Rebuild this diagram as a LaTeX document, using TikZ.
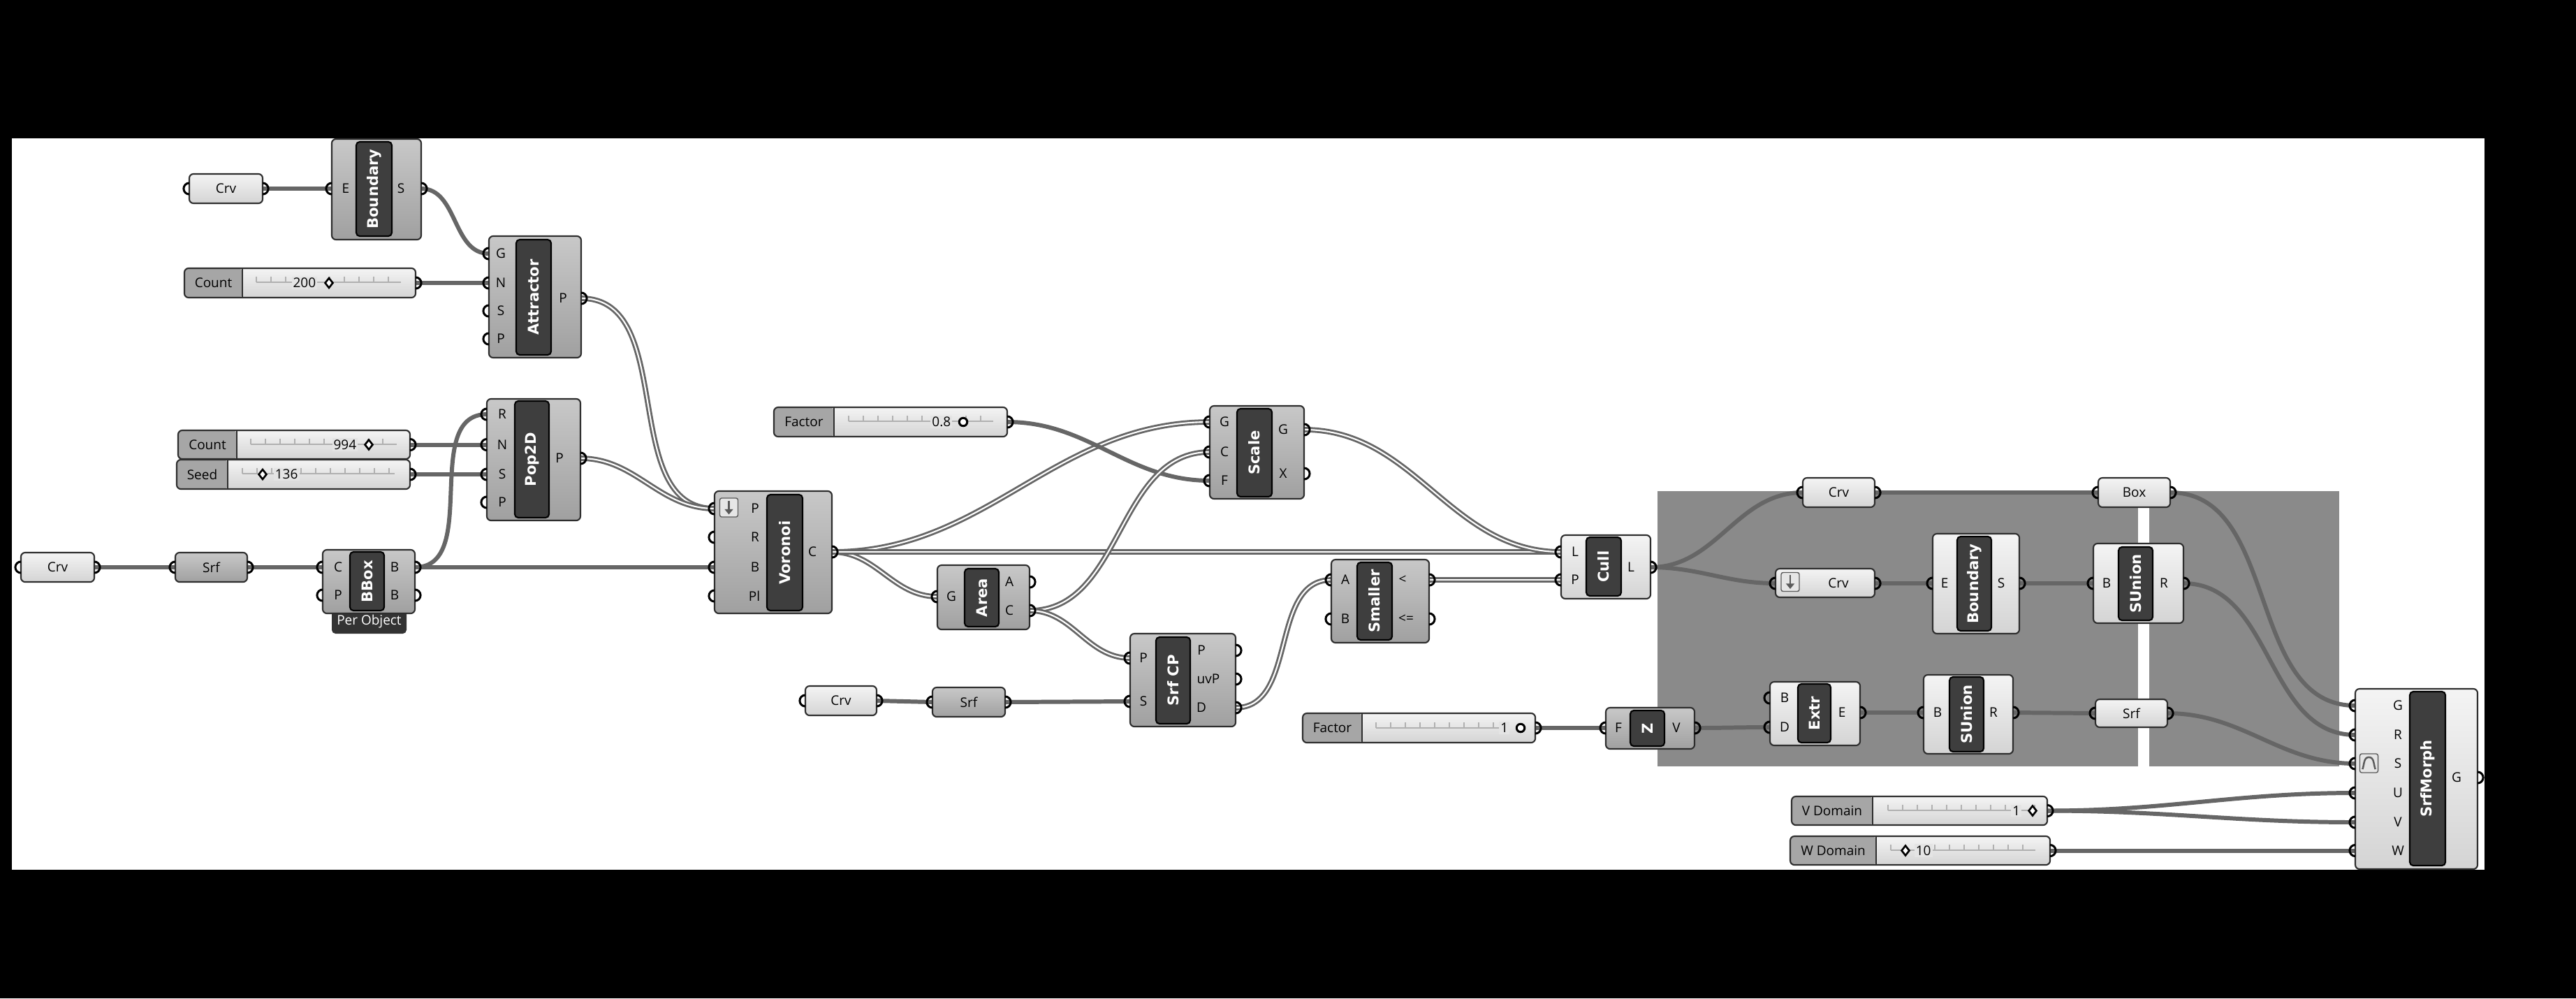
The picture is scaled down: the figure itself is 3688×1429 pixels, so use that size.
\documentclass[tikz,border=0pt]{standalone}
\usepackage{fontspec}
\setmainfont{Open Sans}
\newfontfamily\namefont{DejaVu Sans}
\usetikzlibrary{arrows.meta,shapes.geometric}

\pgfdeclarelayer{back}
\pgfdeclarelayer{wires}
\pgfsetlayers{back,wires,main}

\definecolor{edge}{HTML}{2E2E2E}
\definecolor{compTop}{HTML}{C8C8C8}
\definecolor{compBot}{HTML}{A0A0A0}
\definecolor{liteTop}{HTML}{F4F4F4}
\definecolor{liteBot}{HTML}{D4D4D4}
\definecolor{liteMid}{HTML}{E4E4E4}
\definecolor{slabel}{HTML}{A6A6A6}
\definecolor{barfill}{HTML}{3E3E3E}
\definecolor{wirecol}{HTML}{666666}
\definecolor{groupcol}{HTML}{8A8A8A}
\definecolor{railcol}{HTML}{B0B0B0}
\definecolor{iconFill}{HTML}{E6E6E6}
\definecolor{iconDark}{HTML}{5A5A5A}

\begin{document}
\begin{tikzpicture}[
    x=0.01cm, y=-0.01cm,
    wh/.style 2 args={minimum width=#1*0.01cm, minimum height=#2*0.01cm},
    comp/.style={draw=edge, line width=0.6pt, rounded corners=1.7pt, inner sep=0, top color=compTop, bottom color=compBot},
    lite/.style={comp, top color=liteTop, bottom color=liteBot},
    param/.style={lite, font=\fontsize{5.4}{6.5}\selectfont},
    gparam/.style={comp, font=\fontsize{5.4}{6.5}\selectfont},
    bar/.style={draw=black, line width=0.6pt, rounded corners=1.4pt, fill=barfill, text=white, rotate=90, inner sep=0, font=\namefont\bfseries\fontsize{6}{7}\selectfont},
    plab/.style={inner sep=0, font=\fontsize{5.4}{6.5}\selectfont},
    val/.style={plab, fill=liteMid, inner sep=0.6pt},
    slider/.style={lite, path picture={
        \fill[slabel] (path picture bounding box.north west) rectangle ([xshift=#1*0.01cm]path picture bounding box.south west);
        \draw[edge, line width=0.6pt] ([xshift=#1*0.01cm]path picture bounding box.north west) -- ([xshift=#1*0.01cm]path picture bounding box.south west);}},
    pics/rail/.style={code={
        \draw[railcol, line width=0.35pt] (0,0) -- (#1,0);
        \foreach \t in {0,21,...,#1} \draw[railcol, line width=0.35pt] (\t,0) -- (\t,-8);}},
    dia/.style={draw=black, line width=0.75pt, fill=white, diamond, inner sep=0, minimum width=0.12cm, minimum height=0.15cm},
    ring/.style={draw=black, line width=0.85pt, fill=white, circle, inner sep=0, minimum size=0.115cm},
    icon/.style={draw=iconDark, line width=0.4pt, fill=iconFill, rounded corners=0.8pt, inner sep=0, minimum width=0.26cm, minimum height=0.27cm},
    iconarrow/.style={draw=iconDark, line width=0.75pt, -{Triangle[length=2.2pt, width=3.4pt]}},
    tab/.style={fill=black!80, rounded corners=1.5pt, text=white, inner sep=0, font=\fontsize{5.4}{6.5}\selectfont},
    group/.style={fill=groupcol, inner sep=0},
    wire/.style={draw=wirecol, line width=1.7pt},
    list/.style={draw=wirecol, line width=0.8pt, double=white, double distance=0.6pt},
    grip/.style={draw=black, line width=0.85pt}
  ]
  \useasboundingbox (0,0) rectangle (3688,1429);
  \begin{pgfonlayer}{back}
    \fill[black] (0,0) rectangle (3688,1429);
    \fill[white] (17,198) rectangle (3557,1245);
    \node[group, wh={688}{394}] (grp1) at (2717,900) {};
    \node[group, wh={272}{394}] (grp2) at (3213,900) {};
  \end{pgfonlayer}

  % points
  \node[param, wh={105}{42}] (crv1) at (323.5,270) {Crv};
  \node[comp, wh={128}{144}] (bnd1) at (539,271) {};
  \node[bar, wh={135}{51}] (bnd1-bar) at (535.5,270.5) {Boundary};
  \node[comp, wh={132}{174}] (att) at (766,425) {};
  \node[bar, wh={165}{50}] (att-bar) at (764,425.5) {Attractor};
  \node[slider=83, wh={331}{42}] (count1) at (429.5,405) {};
  \pic at (367,404) {rail=207};
  \node[plab] (count1-t) at (305.5,405) {Count};
  \node[val, anchor=east] (count1-v) at (455,405) {200};
  \node[dia] (count1-k) at (471,405) {};

  \node[comp, wh={134}{174}] (pop) at (764,658) {};
  \node[bar, wh={167}{49}] (pop-bar) at (761.5,657.5) {Pop2D};
  \node[slider=84, wh={332}{41}] (count2) at (421,636.5) {};
  \pic at (359,636) {rail=209};
  \node[plab] (count2-t) at (297,636.5) {Count};
  \node[val, anchor=east] (count2-v) at (513,636.5) {994};
  \node[dia] (count2-k) at (528,636.5) {};
  \node[slider=73, wh={334}{42}] (seed) at (420,679) {};
  \pic at (347,678) {rail=218};
  \node[plab] (seed-t) at (289.5,679) {Seed};
  \node[val, anchor=west] (seed-v) at (391,679) {136};
  \node[dia] (seed-k) at (376,679) {};

  % bounding box
  \node[param, wh={105}{42}] (crv2) at (82.5,812) {Crv};
  \node[gparam, wh={103}{42}] (srf1) at (302.5,812) {Srf};
  \node[tab, wh={107}{34}] (bbox-tab) at (528.5,890) {Per Object};
  \node[comp, wh={132}{91}] (bbox) at (528,832.5) {};
  \node[bar, wh={84}{49}] (bbox-bar) at (525.5,832) {BBox};

  % voronoi cells
  \node[comp, wh={168}{175}] (vor) at (1107,790.5) {};
  \node[bar, wh={166}{51}] (vor-bar) at (1123.5,791) {Voronoi};
  \node[icon] (vor-ic) at (1043.5,726.5) {};
  \draw[iconarrow] ([yshift=-1.2pt]vor-ic.north) -- ([yshift=1.2pt]vor-ic.south);
  \node[comp, wh={132}{92}] (area) at (1408,855) {};
  \node[bar, wh={83}{49}] (area-bar) at (1405.5,855.5) {Area};
  \node[slider=86, wh={334}{42}] (factor1) at (1275,604) {};
  \pic at (1215,603) {rail=207};
  \node[plab] (factor1-t) at (1151,604) {Factor};
  \node[val, anchor=east] (factor1-v) at (1364,604) {0.8};
  \node[ring] (factor1-k) at (1379,604) {};
  \node[comp, wh={135}{133}] (scale) at (1799.5,647.5) {};
  \node[bar, wh={126}{50}] (scale-bar) at (1796,648) {Scale};

  % closest points
  \node[param, wh={102}{42}] (crv3) at (1204,1003) {Crv};
  \node[gparam, wh={104}{42}] (srf2) at (1387,1005) {Srf};
  \node[comp, wh={151}{133}] (srfcp) at (1693.5,973.5) {};
  \node[bar, wh={124}{49}] (srfcp-bar) at (1679.5,974) {Srf CP};
  \node[comp, wh={140}{119}] (sm) at (1976,860.5) {};
  \node[bar, wh={111}{50}] (sm-bar) at (1968,860.5) {Smaller};
  \node[lite, wh={128}{91}] (cull) at (2299,811.5) {};
  \node[bar, wh={84}{50}] (cull-bar) at (2296,811) {Cull};

  % height
  \node[slider=85, wh={333}{42}] (factor2) at (2031.5,1042) {};
  \pic at (1970,1042) {rail=189};
  \node[plab] (factor2-t) at (1907.5,1042) {Factor};
  \node[val, anchor=east] (factor2-v) at (2162,1042) {1};
  \node[ring] (factor2-k) at (2177,1042) {};
  \node[comp, wh={127}{59}] (z) at (2362.5,1042.5) {};
  \node[bar, wh={51}{49}] (z-bar) at (2358.5,1042.5) {Z};

  % group
  \node[param, wh={103}{42}] (crv4) at (2632.5,705) {Crv};
  \node[param, wh={103}{42}] (boxp) at (3055.5,705) {Box};
  \node[lite, wh={142}{41}] (crv5) at (2613,834.5) {};
  \node[plab] (crv5-t) at (2632,835) {Crv};
  \node[icon] (crv5-ic) at (2563,833) {};
  \draw[iconarrow] ([yshift=-1.2pt]crv5-ic.north) -- ([yshift=1.2pt]crv5-ic.south);
  \node[lite, wh={124}{143}] (bnd2) at (2829,835.5) {};
  \node[bar, wh={135}{49}] (bnd2-bar) at (2826.5,835.5) {Boundary};
  \node[lite, wh={129}{114}] (su1) at (3061.5,835) {};
  \node[bar, wh={105}{49}] (su1-bar) at (3057.5,835.5) {SUnion};
  \node[lite, wh={129}{91}] (extr) at (2598.5,1021.5) {};
  \node[bar, wh={84}{47}] (extr-bar) at (2597.5,1021) {Extr};
  \node[lite, wh={128}{113}] (su2) at (2818,1022.5) {};
  \node[bar, wh={107}{49}] (su2-bar) at (2815.5,1022.5) {SUnion};
  \node[param, wh={103}{40}] (srf3) at (3051.5,1021) {Srf};

  % morph
  \node[lite, wh={175}{258}] (mor) at (3459.5,1115) {};
  \node[bar, wh={249}{51}] (mor-bar) at (3475.5,1114.5) {SrfMorph};
  \node[icon] (mor-ic) at (3391.5,1092.5) {};
  \draw[iconDark, line width=0.7pt] ([shift={(1.3pt,1.6pt)}]mor-ic.south west) to[out=70,in=180] ([yshift=-1.6pt]mor-ic.north) to[out=0,in=110] ([shift={(-1.3pt,1.6pt)}]mor-ic.south east);
  \node[slider=116, wh={366}{41}] (vdom) at (2748,1160.5) {};
  \pic at (2703,1160) {rail=210};
  \node[plab] (vdom-t) at (2623,1160.5) {V Domain};
  \node[val, anchor=east] (vdom-v) at (2895,1160.5) {1};
  \node[dia] (vdom-k) at (2910,1160.5) {};
  \node[slider=123, wh={372}{41}] (wdom) at (2749,1217.5) {};
  \pic at (2707,1217) {rail=207};
  \node[plab] (wdom-t) at (2624.5,1217.5) {W Domain};
  \node[val, anchor=west] (wdom-v) at (2740,1217.5) {10};
  \node[dia] (wdom-k) at (2728,1217.5) {};

  % ports
  \foreach \n/\x/\y/\lx/\t in {bnd1-e/475/270/495/E, att-g/700/363/717/G, att-n/700/405/717/N, att-s/700/445/717/S, att-p/700/485/717/P,
      pop-r/697/593/719/R, pop-n/697/636.5/719/N, pop-s/697/679/719/S, pop-p/697/719/719/P, bbox-c/462/812/484/C, bbox-p/462/852/484/P,
      vor-p/1023/728/1081/P, vor-r/1023/769/1081/R, vor-b/1023/812/1081/B, vor-pl/1023/853/1080/Pl, area-g/1342/854/1362/G,
      scale-g/1732/604/1753/G, scale-c/1732/647/1753/C, scale-f/1732/688/1753/F, srfcp-p/1618/942/1637/P, srfcp-s/1618/1004/1637/S,
      sm-a/1906/830/1926/A, sm-b/1906/886/1926/B, cull-l/2235/790/2255/L, cull-p/2235/830/2255/P, z-f/2299/1042/2317/F,
      bnd2-e/2767/835/2784/E, su1-b/2997/835/3016/B, extr-b/2534/999/2555/B, extr-d/2534/1041/2555/D, su2-b/2754/1020/2774/B,
      mor-g/3372/1010/3433/G, mor-r/3372/1052/3433/R, mor-s/3372/1093/3433/S, mor-u/3372/1135/3433/U, mor-v/3372/1177/3433/V, mor-w/3372/1217.5/3433/W}{
    \coordinate (\n) at (\x,\y);
    \node[plab] (\n-t) at (\lx,\y) {\t};
    \draw[grip] (\n) ++(0pt,2.3pt) arc[start angle=90, end angle=270, radius=2.3pt];
  }
  \foreach \n/\x/\y/\lx/\t in {bnd1-s/603/270/574/S, att-o/832/427/806/P, pop-o/831/656/801/P, bbox-b/594/812/565/B, bbox-b2/594/852/565/B,
      vor-c/1191/790/1163/C, area-a/1474/833/1445/A, area-c/1474/874/1445/C, scale-o/1867/615/1837/G, scale-x/1867/678/1837/X,
      srfcp-o/1769/931/1720/P, srfcp-uv/1769/972/1730/uvP, srfcp-d/1769/1013/1720/D, sm-lt/2046/830/2008/<, sm-le/2046/886/2013/<=,
      cull-o/2363/812/2335/L, z-v/2426/1042/2400/V, bnd2-s/2891/835/2865/S, su1-r/3126/835/3098/R, extr-e/2663/1020/2637/E,
      su2-r/2882/1020/2854/R, mor-o/3547/1113/3517/G}{
    \coordinate (\n) at (\x,\y);
    \node[plab] (\n-t) at (\lx,\y) {\t};
    \draw[grip] (\n) ++(0pt,2.3pt) arc[start angle=90, end angle=-90, radius=2.3pt];
  }
  \foreach \n/\x/\y in {crv1-i/271/270, crv2-i/30/812, srf1-i/251/812, crv3-i/1153/1003, srf2-i/1335/1005, crv4-i/2581/705,
      box-i/3004/705, crv5-i/2542/835, srf3-i/3000/1021}{
    \coordinate (\n) at (\x,\y);
    \draw[grip] (\n) ++(0pt,2.3pt) arc[start angle=90, end angle=270, radius=2.3pt];
  }
  \foreach \n/\x/\y in {crv1-o/376/270, count1-o/595/405, count2-o/587/636.5, seed-o/587/679, crv2-o/135/812, srf1-o/354/812,
      factor1-o/1442/604, crv3-o/1255/1003, srf2-o/1439/1005, factor2-o/2198/1042, crv4-o/2684/705, box-o/3107/705,
      crv5-o/2684/835, srf3-o/3103/1021, vdom-o/2931/1160.5, wdom-o/2935/1217.5}{
    \coordinate (\n) at (\x,\y);
    \draw[grip] (\n) ++(0pt,2.3pt) arc[start angle=90, end angle=-90, radius=2.3pt];
  }

  % wires
  \begin{pgfonlayer}{wires}
    \draw[wire] (crv1-o) -- (bnd1-e);
    \draw[wire] (bnd1-s) to[out=0,in=180] (att-g);
    \draw[wire] (count1-o) -- (att-n);
    \draw[wire] (count2-o) -- (pop-n);
    \draw[wire] (seed-o) -- (pop-s);
    \draw[wire] (bbox-b) to[out=0,in=180] (pop-r);
    \draw[wire] (bbox-b) -- (vor-b);
    \draw[wire] (crv2-o) -- (srf1-i);
    \draw[wire] (srf1-o) -- (bbox-c);
    \draw[list] (att-o) to[out=0,in=180] (vor-p);
    \draw[list] (pop-o) to[out=0,in=180] (vor-p);
    \draw[list] (vor-c) to[out=0,in=180] (scale-g);
    \draw[list] (vor-c) to[out=0,in=180] (area-g);
    \draw[list] (vor-c) -- (cull-l);
    \draw[wire] (factor1-o) to[out=0,in=180] (scale-f);
    \draw[list] (area-c) to[out=0,in=180] (scale-c);
    \draw[list] (area-c) to[out=0,in=180] (srfcp-p);
    \draw[wire] (crv3-o) -- (srf2-i);
    \draw[wire] (srf2-o) -- (srfcp-s);
    \draw[list] (srfcp-d) to[out=0,in=180] (sm-a);
    \draw[list] (sm-lt) -- (cull-p);
    \draw[list] (scale-o) to[out=0,in=180] (cull-l);
    \draw[wire] (cull-o) to[out=0,in=180] (crv4-i);
    \draw[wire] (cull-o) to[out=0,in=180] (crv5-i);
    \draw[wire] (crv4-o) -- (box-i);
    \draw[wire] (crv5-o) -- (bnd2-e);
    \draw[wire] (bnd2-s) -- (su1-b);
    \draw[wire] (su1-r) to[out=0,in=180] (mor-r);
    \draw[wire] (box-o) to[out=0,in=180] (mor-g);
    \draw[wire] (factor2-o) -- (z-f);
    \draw[wire] (z-v) to[out=0,in=180] (extr-d);
    \draw[wire] (extr-e) -- (su2-b);
    \draw[wire] (su2-r) -- (srf3-i);
    \draw[wire] (srf3-o) to[out=0,in=180] (mor-s);
    \draw[wire] (vdom-o) to[out=0,in=180] (mor-u);
    \draw[wire] (vdom-o) to[out=0,in=180] (mor-v);
    \draw[wire] (wdom-o) -- (mor-w);
  \end{pgfonlayer}
\end{tikzpicture}
\end{document}
